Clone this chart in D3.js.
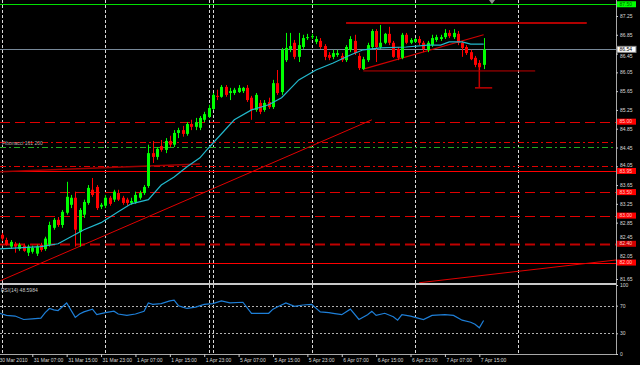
<!DOCTYPE html>
<html>
<head>
<meta charset="utf-8">
<script src="https://cdn.jsdelivr.net/npm/d3@7"></script>
<style>
  body { margin: 0; background: #000; }
  svg { display: block; }
</style>
</head>
<body>
<svg id="chart"></svg>
<script>
// USDJPY-ish H1 chart, 30 Mar - 7 Apr 2010
const FIRST_BAR = 1;
const opens = [82.59, 82.48, 82.34, 82.40, 82.29, 82.36, 82.21, 82.23, 82.19, 82.38,
  82.29, 82.38, 82.74, 82.91, 82.80, 83.06, 83.23, 83.38, 82.65, 83.02,
  83.27, 83.55, 83.61, 83.19, 83.21, 83.38, 83.34, 83.48, 83.38, 83.34,
  83.27, 83.29, 83.38, 83.48, 83.63, 84.33, 84.25, 84.48, 84.40, 84.59,
  84.51, 84.76, 84.82, 84.74, 84.95, 84.89, 84.87, 85.04, 85.10, 85.27,
  85.55, 85.53, 85.74, 85.61, 85.61, 85.63, 85.65, 85.72, 85.51, 85.25,
  85.40, 85.25, 85.42, 85.31, 85.82, 85.63, 86.31, 86.55, 86.68, 86.38,
  86.59, 86.78, 86.80, 86.70, 86.72, 86.61, 86.42, 86.38, 86.42, 86.40,
  86.31, 86.53, 86.72, 86.40, 86.12, 86.31, 86.59, 86.93, 86.59, 86.68,
  86.87, 86.68, 86.55, 86.36, 86.85, 86.68, 86.70, 86.76, 86.68, 86.53,
  86.63, 86.74, 86.76, 86.80, 86.89, 86.80, 86.87, 86.68, 86.59, 86.48,
  86.36, 86.25, 86.21];
const highs = [82.63, 82.53, 82.48, 82.44, 82.42, 82.40, 82.38, 82.36, 82.38, 82.42,
  82.55, 82.87, 82.95, 82.97, 83.12, 83.72, 83.44, 83.51, 83.16, 83.34,
  83.65, 83.80, 83.65, 83.27, 83.44, 83.42, 83.55, 83.55, 83.42, 83.38,
  83.38, 83.51, 83.53, 83.65, 84.51, 84.59, 84.46, 84.61, 84.65, 84.70,
  84.82, 84.87, 84.91, 84.99, 85.04, 85.08, 85.12, 85.21, 85.36, 85.61,
  85.68, 85.78, 85.78, 85.72, 85.72, 85.78, 85.74, 85.78, 85.55, 85.61,
  85.46, 85.46, 85.51, 85.89, 86.10, 86.57, 86.89, 86.89, 86.74, 86.89,
  86.85, 86.87, 86.87, 86.82, 86.78, 86.65, 86.48, 86.53, 86.53, 86.46,
  86.63, 86.82, 86.85, 86.46, 86.38, 86.68, 86.97, 86.97, 87.06, 86.89,
  87.02, 86.72, 86.59, 86.89, 86.89, 86.78, 86.78, 86.82, 86.72, 86.72,
  86.85, 86.85, 86.85, 86.97, 86.95, 86.97, 86.93, 86.72, 86.63, 86.53,
  86.40, 86.31, 86.78];
const lows = [82.46, 82.36, 82.29, 82.21, 82.25, 82.23, 82.14, 82.19, 82.14, 82.23,
  82.25, 82.34, 82.70, 82.76, 82.74, 83.02, 83.16, 82.34, 82.34, 82.95,
  83.23, 83.40, 83.12, 83.14, 83.16, 83.21, 83.29, 83.31, 83.23, 83.21,
  83.23, 83.25, 83.34, 83.44, 83.59, 84.12, 84.19, 84.36, 84.33, 84.46,
  84.46, 84.65, 84.68, 84.70, 84.82, 84.82, 84.82, 84.99, 85.08, 85.25,
  85.46, 85.51, 85.53, 85.46, 85.57, 85.61, 85.61, 85.42, 85.04, 85.21,
  85.16, 85.21, 85.27, 85.27, 85.57, 85.57, 86.27, 86.48, 86.33, 86.27,
  86.55, 86.74, 86.76, 86.65, 86.55, 86.31, 86.31, 86.33, 86.38, 86.27,
  86.27, 86.48, 86.42, 86.10, 86.10, 86.27, 86.55, 86.27, 86.55, 86.65,
  86.63, 86.36, 86.31, 86.33, 86.65, 86.65, 86.68, 86.63, 86.48, 86.48,
  86.59, 86.70, 86.72, 86.76, 86.78, 86.76, 86.63, 86.38, 86.42, 86.31,
  86.16, 86.10, 86.12];
const closes = [82.51, 82.38, 82.44, 82.34, 82.38, 82.25, 82.34, 82.31, 82.34, 82.27,
  82.51, 82.80, 82.91, 82.80, 83.08, 83.40, 83.38, 82.70, 83.12, 83.29,
  83.59, 83.44, 83.16, 83.23, 83.38, 83.25, 83.51, 83.34, 83.27, 83.27,
  83.31, 83.44, 83.48, 83.61, 84.33, 84.25, 84.42, 84.40, 84.59, 84.51,
  84.76, 84.82, 84.74, 84.95, 84.89, 84.99, 85.08, 85.16, 85.29, 85.57,
  85.53, 85.74, 85.57, 85.65, 85.68, 85.72, 85.72, 85.46, 85.25, 85.57,
  85.21, 85.40, 85.31, 85.82, 85.61, 86.53, 86.57, 86.61, 86.38, 86.63,
  86.78, 86.80, 86.82, 86.76, 86.59, 86.38, 86.36, 86.46, 86.46, 86.31,
  86.59, 86.76, 86.46, 86.14, 86.33, 86.63, 86.93, 86.59, 86.68, 86.87,
  86.68, 86.38, 86.36, 86.85, 86.68, 86.74, 86.76, 86.68, 86.55, 86.68,
  86.78, 86.80, 86.80, 86.89, 86.82, 86.89, 86.68, 86.57, 86.46, 86.33,
  86.21, 86.16, 86.54];

// moving average (cyan), sampled by bar
const maBars = [0, 10, 14, 17, 20, 24, 28, 31, 35, 38, 41, 44, 47, 49, 55, 59, 63, 66, 70, 74, 78, 82, 85, 89, 95, 100, 103, 105, 108, 110, 113];
const maValues = [82.29, 82.34, 82.40, 82.55, 82.70, 82.85, 83.08, 83.25, 83.34, 83.65, 83.82, 84.04, 84.23, 84.44, 85.04, 85.25, 85.36, 85.51, 85.89, 86.10, 86.25, 86.42, 86.53, 86.57, 86.59, 86.63, 86.63, 86.70, 86.70, 86.65, 86.65];

// RSI(14)
const rsiBars = [0, 2, 4, 6, 8, 10, 11, 12, 13, 14, 16, 18, 19, 20, 22, 23, 25, 27, 28, 30, 32, 34, 35, 36, 38, 40, 41, 42, 43, 44, 46, 48, 50, 52, 54, 57, 59, 61, 63, 64, 65, 67, 69, 71, 73, 75, 77, 78, 80, 82, 84, 86, 87, 88, 90, 92, 93, 94, 96, 99, 101, 104, 106, 108, 110, 111, 112, 113];
const rsiValues = [60, 56, 55, 50, 51, 52, 60, 66, 64, 63, 74, 53, 58, 61, 65, 57, 60, 62, 58, 56, 58, 62, 74, 72, 73, 77, 78, 70, 68, 66, 68, 72, 73, 77, 74, 75, 59, 59, 59, 65, 68, 74, 69, 71, 72, 61, 60, 59, 57, 65, 50, 57, 62, 56, 59, 54, 49, 57, 55, 50, 56, 57, 56, 49, 46, 43, 38, 48.6];
const rsiLevels = [70, 30];
const rsiTicks = [100, 70, 30, 0];

const timeLabels = ["30 Mar 2010", "31 Mar 07:00", "31 Mar 15:00", "31 Mar 23:00", "1 Apr 07:00",
  "1 Apr 15:00", "1 Apr 23:00", "5 Apr 07:00", "5 Apr 15:00", "5 Apr 23:00",
  "6 Apr 07:00", "6 Apr 15:00", "6 Apr 23:00", "7 Apr 07:00", "7 Apr 15:00"];
const timeLabelBars = [0, 8, 16, 24, 32, 40, 48, 56, 64, 72, 80, 88, 96, 104, 112];
const separatorBars = [1, 25, 49, 50, 73, 97, 121];

const priceTicks = [87.25, 86.85, 86.45, 86.05, 85.65, 85.25, 84.85, 84.45, 84.05, 83.65, 83.25, 82.85, 82.45, 82.05, 81.65];

// horizontal levels
const greenLevel = 87.50;
const bidPrice = 86.54;
const redSolidLevels = [83.95, 82.00];
const redDashedLevels = [85.00, 83.50, 83.00];
const heavyDashedLevels = [82.40];
const redDashDotLevels = [84.57, 84.06];
const greenDashDotLevels = [84.46];
const labeledLevels = [85.00, 83.95, 83.50, 83.00, 82.40, 82.00];

// drawn objects, [bar, price]
const trendSupport = [[0.5, 81.61], [87, 85.04]];
const trendLower = [[98, 81.57], [150, 82.12]];
const trendWedge = [[85, 86.12], [113, 86.85]];
const trendLeft = [[0, 83.93], [47, 84.10]];
const resistanceSeg = [[81, 87.10], [137, 87.10]];
const supportSeg = [[85, 86.08], [125, 86.08]];
const markerV = [[112, 86.25], [112, 85.72]];
const markerH = [[111, 85.72], [115, 85.72]];

const WIDTH = 640;
const HEIGHT = 365;
const PLOT_R = 616;
const MAIN_BOTTOM = 283;
const RSI_TOP = 285;
const RSI_BOTTOM = 354;
const FONT = "Liberation Sans, Arial, sans-serif";

const svg = d3.select("#chart").attr("width", WIDTH).attr("height", HEIGHT)
  .style("background", "#000");

const x = d3.scaleLinear().domain([0, 113]).range([-2.1, 483.6]);
const y = d3.scaleLinear().domain([81.65, 87.25]).range([279, 16]);
const yRsi = d3.scaleLinear().domain([0, 100]).range([RSI_BOTTOM, RSI_TOP]);

const defs = svg.append("defs");
defs.append("clipPath").attr("id", "clipMain")
  .append("rect").attr("x", 0).attr("y", 0).attr("width", PLOT_R).attr("height", MAIN_BOTTOM);
defs.append("clipPath").attr("id", "clipRsi")
  .append("rect").attr("x", 0).attr("y", RSI_TOP).attr("width", PLOT_R).attr("height", RSI_BOTTOM - RSI_TOP);

// period separators
svg.append("g").selectAll("line").data(separatorBars).join("line")
  .attr("x1", d => Math.round(x(d)) + 0.5).attr("x2", d => Math.round(x(d)) + 0.5)
  .attr("y1", 0).attr("y2", RSI_BOTTOM)
  .attr("stroke", "#d8d8d8").attr("stroke-dasharray", "3,2");

const main = svg.append("g").attr("clip-path", "url(#clipMain)");

const hline = (prices, color, width, dash) => {
  main.append("g").selectAll("line").data(prices).join("line")
    .attr("x1", 0).attr("x2", PLOT_R)
    .attr("y1", d => Math.round(y(d)) + 0.5).attr("y2", d => Math.round(y(d)) + 0.5)
    .attr("stroke", color).attr("stroke-width", width)
    .attr("stroke-dasharray", dash);
};
hline([greenLevel], "#00e000", 1, null);
hline([bidPrice], "#778899", 1, null);
hline(redSolidLevels, "#ff0000", 1.2, null);
hline(redDashedLevels, "#e00000", 1.2, "10,5");
hline(heavyDashedLevels, "#c00000", 2, "10,5");
hline(redDashDotLevels, "#e00000", 1, "6,3,2,3");
hline(greenDashDotLevels, "#22aa22", 1, "6,3,2,3");

const seg = d3.line().x(d => x(d[0])).y(d => y(d[1]));
const drawSeg = (pts, color, width) => {
  main.append("path").datum(pts).attr("d", seg)
    .attr("fill", "none").attr("stroke", color).attr("stroke-width", width);
};
drawSeg(trendSupport, "#e00000", 1);
drawSeg(trendLower, "#e00000", 1);
drawSeg(trendWedge, "#d00000", 1.2);
drawSeg(trendLeft, "#a00000", 1.5);
drawSeg(resistanceSeg, "#b00000", 2);
drawSeg(supportSeg, "#c00000", 1);
drawSeg(markerV, "#c00000", 1.5);
drawSeg(markerH, "#c00000", 1.5);

// candles
const bars = opens.map((o, k) => ({ i: k + FIRST_BAR, o, h: highs[k], l: lows[k], c: closes[k] }));
const candle = main.append("g").selectAll("g").data(bars).join("g")
  .attr("stroke", d => d.c >= d.o ? "#00ff00" : "#ff0000")
  .attr("fill", d => d.c >= d.o ? "#00ff00" : "#ff0000");
candle.append("line")
  .attr("x1", d => Math.round(x(d.i)) + 0.5).attr("x2", d => Math.round(x(d.i)) + 0.5)
  .attr("y1", d => y(d.h)).attr("y2", d => y(d.l));
candle.append("rect")
  .attr("x", d => Math.round(x(d.i)) - 1).attr("width", 3)
  .attr("y", d => y(Math.max(d.o, d.c)))
  .attr("height", d => Math.max(1, Math.abs(y(d.o) - y(d.c))))
  .attr("stroke", "none");

// moving average
main.append("path")
  .datum(maBars.map((b, k) => [b, maValues[k]]))
  .attr("d", seg)
  .attr("fill", "none").attr("stroke", "#22b8cc").attr("stroke-width", 1.2);

main.append("text").attr("x", 2).attr("y", 145)
  .attr("font-family", FONT).attr("font-size", 5).attr("fill", "#b0b0b0")
  .text("Fibonacci 161 200");

// RSI pane
const rsiG = svg.append("g").attr("clip-path", "url(#clipRsi)");
rsiG.selectAll("line").data(rsiLevels).join("line")
  .attr("x1", 0).attr("x2", PLOT_R)
  .attr("y1", d => Math.round(yRsi(d)) + 0.5).attr("y2", d => Math.round(yRsi(d)) + 0.5)
  .attr("stroke", "#b0b0b0").attr("stroke-dasharray", "2,2");
rsiG.append("path")
  .datum(rsiBars.map((b, k) => [b, rsiValues[k]]))
  .attr("d", d3.line().x(d => x(d[0])).y(d => yRsi(d[1])))
  .attr("fill", "none").attr("stroke", "#1e7fd8").attr("stroke-width", 1.2);
svg.append("text").attr("x", 1).attr("y", 292)
  .attr("font-family", FONT).attr("font-size", 5).attr("fill", "#c8c8c8")
  .text("RSI(14) 48.5984");

// frame
svg.append("line").attr("x1", 0).attr("x2", PLOT_R).attr("y1", 284).attr("y2", 284)
  .attr("stroke", "#c8c8c8").attr("stroke-width", 2);
svg.append("line").attr("x1", 0).attr("x2", PLOT_R).attr("y1", RSI_BOTTOM + 0.5).attr("y2", RSI_BOTTOM + 0.5)
  .attr("stroke", "#a8a8a8");
svg.append("line").attr("x1", PLOT_R + 0.5).attr("x2", PLOT_R + 0.5).attr("y1", 0).attr("y2", RSI_BOTTOM)
  .attr("stroke", "#a8a8a8");

// axes
const styleAxis = g => {
  g.select(".domain").remove();
  g.selectAll("line").attr("stroke", "#c8c8c8");
  g.selectAll("text").attr("fill", "#d8d8d8").attr("font-family", FONT).attr("font-size", 5);
};
const tagged = labeledLevels.concat([greenLevel, bidPrice]);
svg.append("g").attr("transform", `translate(${PLOT_R},0)`)
  .call(d3.axisRight(y).tickValues(priceTicks).tickSize(2).tickPadding(2).tickFormat(d3.format(".2f")))
  .call(styleAxis)
  .call(g => g.selectAll(".tick text").attr("dy", function (d) {
    // nudge tick labels that sit under a price tag, as the terminal does
    let shift = 0;
    tagged.forEach(p => {
      const gap = y(d) - Math.max(4, y(p));
      if (Math.abs(gap) < 6.5) shift = gap >= 0 ? 6.5 - gap : -(6.5 + gap);
    });
    return `${0.32 + shift / 5}em`;
  }));
svg.append("g").attr("transform", `translate(${PLOT_R},0)`)
  .call(d3.axisRight(yRsi).tickValues(rsiTicks).tickSize(2).tickPadding(2))
  .call(styleAxis);
svg.append("g").attr("transform", `translate(0,${RSI_BOTTOM})`)
  .call(d3.axisBottom(x).tickValues(timeLabelBars).tickSize(3).tickPadding(1)
    .tickFormat((d, k) => timeLabels[k]))
  .call(styleAxis)
  .call(g => g.selectAll("text").attr("text-anchor", "start").attr("dx", 1));

// price labels on the axis
const tag = (price, fill, textColor) => {
  const g = svg.append("g").attr("transform", `translate(${PLOT_R + 1},${Math.max(4, y(price))})`);
  g.append("rect").attr("x", 0).attr("y", -3).attr("width", 19).attr("height", 6)
    .attr("fill", fill).attr("stroke", fill === "#ffffff" ? "#888" : "none");
  g.append("text").attr("x", 2.5).attr("y", 1.7)
    .attr("font-family", FONT).attr("font-size", 5).attr("fill", textColor)
    .text(d3.format(".2f")(price));
};
labeledLevels.forEach(p => tag(p, p === 82.40 ? "#d00000" : "#ff0000", "#ffc8c8"));
tag(greenLevel, "#00ff00", "#006000");
tag(bidPrice, "#ffffff", "#000000");

// shift marker
svg.append("path").attr("d", d3.line()([[489, 0], [495, 0], [492, 4]]))
  .attr("fill", "#909090");
</script>
</body>
</html>
